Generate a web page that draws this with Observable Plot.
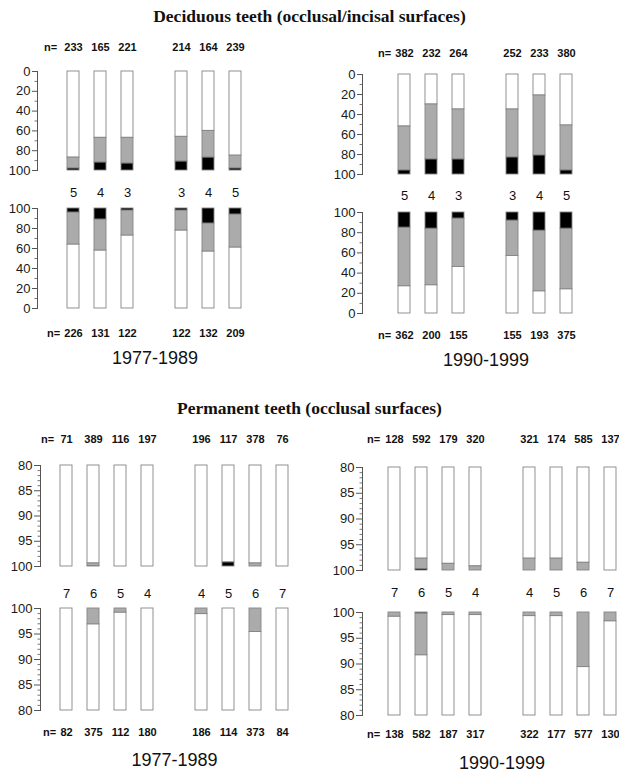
<!DOCTYPE html>
<html>
<head>
<meta charset="utf-8">
<script src="https://cdn.jsdelivr.net/npm/d3@7"></script>
<script src="https://cdn.jsdelivr.net/npm/@observablehq/plot@0.6"></script>
<style>
  html, body { margin: 0; padding: 0; background: #fff; overflow: hidden; }
  #root { position: relative; width: 619px; height: 772px; overflow: hidden; background: #fff;
          font-family: "Liberation Sans", Arial, sans-serif; }
  .title { position: absolute; left: 0; width: 619px; text-align: center;
           font-family: "Liberation Serif", "Times New Roman", serif; font-weight: bold; font-size: 17.5px; color: #111; }
</style>
</head>
<body>
<div id="root">
  <div class="title" id="t1" style="top:6px">Deciduous teeth (occlusal/incisal surfaces)</div>
  <div class="title" id="t2" style="top:398px">Permanent teeth (occlusal surfaces)</div>
</div>
<script>
// ---------- tick labels / categories ----------
const decidTeeth = [5, 4, 3, 3, 4, 5];
const permTeeth = [7, 6, 5, 4, 4, 5, 6, 7];
const decidMajorTicks = [0, 20, 40, 60, 80, 100];
const decidMinorTicks = [10, 30, 50, 70, 90];
const permMajorTicks = [80, 85, 90, 95, 100];
const permMinorTicks = [81, 82, 83, 84, 86, 87, 88, 89, 91, 92, 93, 94, 96, 97, 98, 99];
const periods = ["1977-1989", "1990-1999"];

// ---------- deciduous teeth, 1977-1989 ----------
const dA_upN = [233, 165, 221, 214, 164, 239];
const dA_upWhite = [87, 67, 67, 66, 60, 85];
const dA_upGray = [11, 25, 26, 25, 27, 13];
const dA_upBlack = [2, 8, 7, 9, 13, 2];
const dA_loN = [226, 131, 122, 122, 132, 209];
const dA_loWhite = [64, 58, 73, 78, 57, 61];
const dA_loGray = [32, 31, 25, 20, 28, 33];
const dA_loBlack = [4, 11, 2, 2, 15, 6];

// ---------- deciduous teeth, 1990-1999 ----------
const dB_upN = [382, 232, 264, 252, 233, 380];
const dB_upWhite = [52, 30, 35, 35, 21, 51];
const dB_upGray = [44, 55, 50, 48, 60, 45];
const dB_upBlack = [4, 15, 15, 17, 19, 4];
const dB_loN = [362, 200, 155, 155, 193, 375];
const dB_loWhite = [27, 28, 46, 57, 22, 24];
const dB_loGray = [58, 56, 48, 35, 60, 60];
const dB_loBlack = [15, 16, 6, 8, 18, 16];

// ---------- permanent teeth, 1977-1989 ----------
const pA_upN = [71, 389, 116, 197, 196, 117, 378, 76];
const pA_upWhite = [100, 99.4, 100, 100, 100, 99.2, 99.4, 100];
const pA_upGray = [0, 0.5, 0, 0, 0, 0, 0.6, 0];
const pA_upBlack = [0, 0.1, 0, 0, 0, 0.8, 0, 0];
const pA_loN = [82, 375, 112, 180, 186, 114, 373, 84];
const pA_loWhite = [100, 96.9, 99.2, 100, 98.9, 100, 95.4, 100];
const pA_loGray = [0, 3.1, 0.8, 0, 1.1, 0, 4.6, 0];
const pA_loBlack = [0, 0, 0, 0, 0, 0, 0, 0];

// ---------- permanent teeth, 1990-1999 ----------
const pB_upN = [128, 592, 179, 320, 321, 174, 585, 137];
const pB_upWhite = [100, 97.7, 98.7, 99.2, 97.7, 97.7, 98.5, 100];
const pB_upGray = [0, 2.0, 1.3, 0.8, 2.3, 2.3, 1.5, 0];
const pB_upBlack = [0, 0.3, 0, 0, 0, 0, 0, 0];
const pB_loN = [138, 582, 187, 317, 322, 177, 577, 130];
const pB_loWhite = [99.2, 91.7, 99.5, 99.5, 99.3, 99.3, 89.4, 98.3];
const pB_loGray = [0.8, 8.1, 0.5, 0.5, 0.7, 0.7, 10.6, 1.7];
const pB_loBlack = [0, 0.2, 0, 0, 0, 0, 0, 0];

const parts = ["white", "gray", "black"];
const partColor = {white: "#ffffff", gray: "#ababab", black: "#000000"};

const root = document.getElementById("root");

function panel(o) {
  const teeth = o.teeth;
  const half = teeth.length / 2;
  const ids = teeth.map((t, i) => (i < half ? "R" : "L") + t);
  const domainX = [...ids.slice(0, half), "gap", ...ids.slice(half)];
  const slots = domainX.length;
  const pi = 1 - o.bw / o.step;
  const po = (o.center0 - o.axisX - o.bw / 2) / o.step;
  const rangeLen = o.step * (slots - pi + 2 * po);
  const marginTop = 45, marginBottom = 65;
  const height = (o.frameBottom - o.frameTop) + marginTop + marginBottom;
  const width = Math.ceil(o.axisX + rangeLen + 6);

  const rows = [];
  ids.forEach((id, i) => {
    const vals = [o.white[i], o.gray[i], o.black[i]];
    parts.forEach((p, k) => rows.push({id, part: p, v: vals[k]}));
  });
  const labels = ids.map((id, i) => ({id, n: o.n[i], tooth: teeth[i]}));

  const marks = [
    Plot.barY(rows.filter(d => d.v > 0), {
      x: "id", y: "v", fill: d => partColor[d.part], stroke: "#858585", strokeWidth: 0.9
    }),
    Plot.frame({anchor: "left", stroke: "#555", strokeWidth: 1}),
    Plot.axisY({ticks: o.major, tickSize: o.majorSize, tickPadding: 2, fontSize: 13,
                fill: "#1a1a1a", stroke: "#555", label: null}),
    Plot.axisY({ticks: o.minor, tickSize: 2.5, tickFormat: () => "", stroke: "#777", label: null}),
    Plot.text(labels, {x: "id", text: "n", frameAnchor: o.upper ? "top" : "bottom", dy: o.nDy,
                       fontWeight: "bold", fontSize: 11, fill: "#111", lineAnchor: "middle"}),
    Plot.text(["n="], {x: () => ids[0], frameAnchor: o.upper ? "top" : "bottom", dy: o.nDy, dx: o.nEqDx,
                       fontWeight: "bold", fontSize: 11, fill: "#111", lineAnchor: "middle"})
  ];
  if (o.upper) {
    marks.push(Plot.text(labels, {x: "id", text: "tooth", frameAnchor: "bottom", dy: o.toothDy,
                                  fontSize: 13, fill: "#111", lineAnchor: "middle"}));
  } else {
    marks.push(Plot.text([o.year], {frameAnchor: "bottom", dy: o.yearDy, fontSize: 18,
                                    fill: "#111", lineAnchor: "middle"}));
  }

  const svg = Plot.plot({
    width, height,
    marginLeft: o.axisX, marginRight: 6, marginTop, marginBottom,
    x: {domain: domainX, range: [o.axisX, o.axisX + rangeLen], paddingInner: pi, paddingOuter: po, align: 0.5, axis: null},
    y: {domain: o.domain, reverse: o.upper, clamp: true},
    color: {type: "identity"},
    style: {background: "transparent", overflow: "visible", fontFamily: "'Liberation Sans', Arial, sans-serif"},
    marks
  });
  svg.style.position = "absolute";
  svg.style.left = "0px";
  svg.style.top = (o.frameTop - marginTop) + "px";
  svg.style.maxWidth = "none";
  root.appendChild(svg);
}

const decidCommon = {teeth: decidTeeth, domain: [0, 100], major: decidMajorTicks, minor: decidMinorTicks, majorSize: 5, step: 27.5, bw: 12.5};
const permCommon = {teeth: permTeeth, domain: [80, 100], major: permMajorTicks, minor: permMinorTicks, majorSize: 6, bw: 12};

// Deciduous
panel({...decidCommon, upper: true, n: dA_upN, white: dA_upWhite, gray: dA_upGray, black: dA_upBlack,
       axisX: 37, frameTop: 71, frameBottom: 170, center0: 72, nDy: -24, toothDy: 22, nEqDx: -23});
panel({...decidCommon, upper: false, n: dA_loN, white: dA_loWhite, gray: dA_loGray, black: dA_loBlack,
       axisX: 37, frameTop: 208, frameBottom: 308, center0: 72, nDy: 25, yearDy: 50, nEqDx: -20, year: periods[0]});
panel({...decidCommon, upper: true, n: dB_upN, white: dB_upWhite, gray: dB_upGray, black: dB_upBlack,
       axisX: 362, frameTop: 74, frameBottom: 174, center0: 403, nDy: -21, toothDy: 21, nEqDx: -20});
panel({...decidCommon, upper: false, n: dB_loN, white: dB_loWhite, gray: dB_loGray, black: dB_loBlack,
       axisX: 362, frameTop: 212, frameBottom: 313, center0: 403, nDy: 22, yearDy: 47, nEqDx: -20, year: periods[1]});

// Permanent
panel({...permCommon, upper: true, n: pA_upN, white: pA_upWhite, gray: pA_upGray, black: pA_upBlack,
       axisX: 40, frameTop: 465, frameBottom: 566, center0: 64.5, step: 27.375, nDy: -26, toothDy: 27, nEqDx: -19});
panel({...permCommon, upper: false, n: pA_loN, white: pA_loWhite, gray: pA_loGray, black: pA_loBlack,
       axisX: 40, frameTop: 608, frameBottom: 710, center0: 64.5, step: 27.375, nDy: 22, yearDy: 50, nEqDx: -17, year: periods[0]});
panel({...permCommon, upper: true, n: pB_upN, white: pB_upWhite, gray: pB_upGray, black: pB_upBlack,
       axisX: 362, frameTop: 467, frameBottom: 570, center0: 391, step: 27.6, nDy: -28, toothDy: 22, nEqDx: -21});
panel({...permCommon, upper: false, n: pB_loN, white: pB_loWhite, gray: pB_loGray, black: pB_loBlack,
       axisX: 362, frameTop: 612, frameBottom: 715, center0: 391, step: 27.6, nDy: 19, yearDy: 48, nEqDx: -21, year: periods[1]});
</script>
</body>
</html>
